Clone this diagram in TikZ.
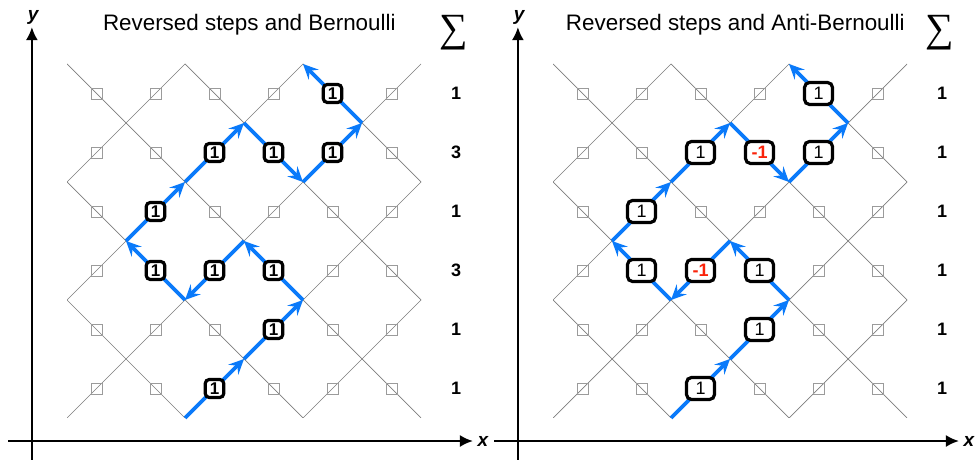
\documentclass[tikz,border=0pt]{standalone}
\usepackage{fontspec}
\setmainfont{Liberation Sans}
\newfontfamily\sumfont{Liberation Serif}
\usetikzlibrary{arrows.meta}
\definecolor{pathblue}{RGB}{10,122,250}
\definecolor{latgray}{RGB}{125,125,125}
\definecolor{sqgray}{RGB}{155,155,155}
\definecolor{negred}{RGB}{250,35,10}
\tikzset{
  latline/.style={draw=latgray, line width=0.7pt},
  cellsq/.style={draw=sqgray, line width=0.9pt, minimum size=11pt, inner sep=0pt},
  axisline/.style={line width=2pt, -{Latex[length=13pt,width=12pt]}},
  walk/.style={draw=pathblue, line width=3.6pt, -{Stealth[length=15pt,width=14pt,inset=5.5pt]}},
  lblleft/.style={draw, line width=3.2pt, rounded corners=4pt, fill=white, minimum width=18.5pt, minimum height=18pt, inner sep=0pt, font=\fontsize{17}{17}\selectfont\bfseries},
  lblright/.style={draw, line width=3.2pt, rounded corners=5pt, fill=white, minimum width=28pt, minimum height=22pt, inner sep=0pt, font=\fontsize{18}{18}\selectfont},
  sumnum/.style={font=\fontsize{18}{18}\selectfont\bfseries, inner sep=0pt},
  axlabel/.style={font=\fontsize{19}{19}\selectfont\bfseries\itshape, inner sep=0pt},
  titletext/.style={font=\fontsize{22.4}{22.4}\selectfont, inner sep=0pt, anchor=base},
  sigmatext/.style={font=\sumfont\fontsize{40}{40}\selectfont, inner sep=0pt},
}
\newcommand\neglbl{\textcolor{negred}{\bfseries -1}}
% #1 x shift, #2 prefix, #3 title, #4 label list, #5 label style, #6 sum list
\newcommand\drawpanel[6]{%
\begin{scope}[shift={(#1,42pt)}, x=29.5pt, y=29.5pt]
  \begin{scope}
    \clip (0,0) rectangle (12,12);
    \foreach \c in {4,8,...,20} \draw[latline] (\c,0) -- (\c-12,12);
    \foreach \d in {-8,-4,...,8} \draw[latline] (\d,0) -- (\d+12,12);
  \end{scope}
  \foreach \i in {1,3,...,11} \foreach \j in {1,3,...,11}
    \node[cellsq] (#2sq-\i-\j) at (\i,\j) {};
  \coordinate (#2p0) at (4,0);
  \coordinate (#2p1) at (6,2);
  \coordinate (#2p2) at (8,4);
  \coordinate (#2p3) at (6,6);
  \coordinate (#2p4) at (4,4);
  \coordinate (#2p5) at (2,6);
  \coordinate (#2p6) at (4,8);
  \coordinate (#2p7) at (6,10);
  \coordinate (#2p8) at (8,8);
  \coordinate (#2p9) at (10,10);
  \coordinate (#2p10) at (8,12);
  \draw[walk] (#2p0) -- (#2p1);
  \draw[walk] (#2p1) -- (#2p2);
  \draw[walk] (#2p2) -- (#2p3);
  \draw[walk] (#2p3) -- (#2p4);
  \draw[walk] (#2p4) -- (#2p5);
  \draw[walk] (#2p5) -- (#2p6);
  \draw[walk] (#2p6) -- (#2p7);
  \draw[walk] (#2p7) -- (#2p8);
  \draw[walk] (#2p8) -- (#2p9);
  \draw[walk] (#2p9) -- (#2p10);
  \foreach \x/\y/\v [count=\k] in {#4}
    \node[#5] (#2lab\k) at (\x,\y) {\v};
  \foreach \y/\s [count=\k] in {#6}
    \node[sumnum] (#2sum\k) at (13.19,\y) {\s};
  \node[sigmatext] (#2sigma) at (13.1,13.05) {∑};
  \node[titletext] (#2title) at (6.18,13.12) {#3};
  \coordinate (#2xa) at (-2,-0.78);
  \coordinate (#2xb) at (13.76,-0.78);
  \coordinate (#2ya) at (-1.19,-1.6);
  \coordinate (#2yb) at (-1.19,13.25);
  \draw[axisline] (#2xa) -- (#2xb);
  \draw[axisline] (#2ya) -- (#2yb);
  \node[axlabel] (#2xl) at (14.1,-0.78) {x};
  \node[axlabel] (#2yl) at (-1.15,13.58) {y};
\end{scope}}
\begin{document}
\begin{tikzpicture}[x=1pt,y=1pt]
\useasboundingbox (0,0) rectangle (977,460);
\drawpanel{67pt}{L}{Reversed steps and Bernoulli}
  {5/1/1, 7/3/1, 7/5/1, 5/5/1, 3/5/1, 3/7/1, 5/9/1, 7/9/1, 9/9/1, 9/11/1}
  {lblleft}
  {11/1, 9/3, 7/1, 5/3, 3/1, 1/1}
\drawpanel{553pt}{R}{Reversed steps and Anti-Bernoulli}
  {5/1/1, 7/3/1, 7/5/1, 5/5/\neglbl, 3/5/1, 3/7/1, 5/9/1, 7/9/\neglbl, 9/9/1, 9/11/1}
  {lblright}
  {11/1, 9/1, 7/1, 5/1, 3/1, 1/1}
\end{tikzpicture}
\end{document}
